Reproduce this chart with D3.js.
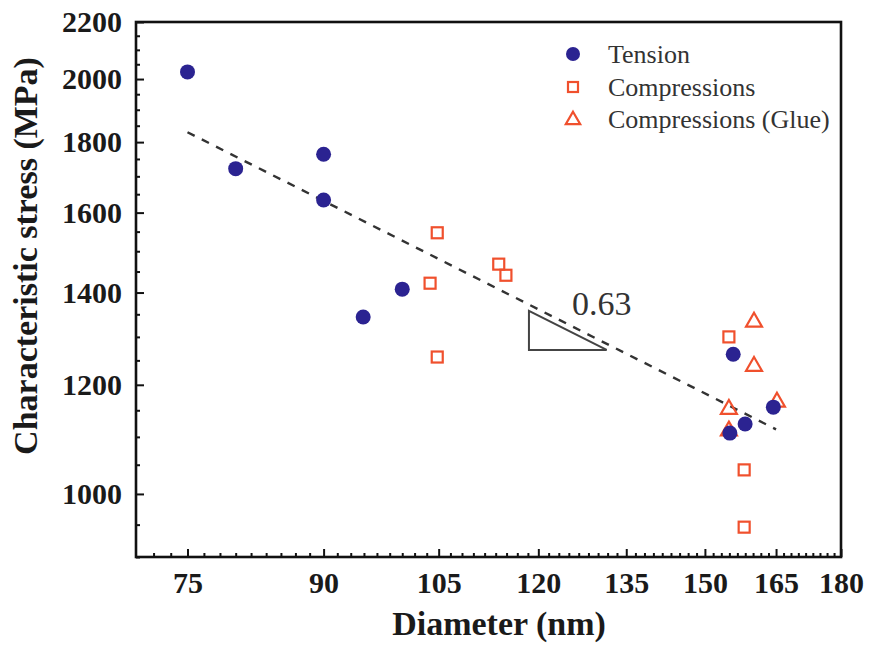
<!DOCTYPE html>
<html>
<head>
<meta charset="utf-8">
<script src="https://cdn.jsdelivr.net/npm/d3@7"></script>
<style>
  body { margin: 0; background: #fff; }
  svg { display: block; }
  .tick text { font-family: "Liberation Serif", "Times New Roman", serif; font-weight: bold; font-size: 30px; fill: #1a1a1a; }
</style>
</head>
<body>
<div id="chart"></div>
<script>
// diameter (nm) vs characteristic stress (MPa)
const tensionD = [75, 80, 90, 90, 94.9, 100, 155.8, 155.1, 158.3, 164.4];
const tensionS = [2024, 1722, 1764, 1634, 1344, 1408, 1263, 1107, 1124, 1156];

const compD = [104.8, 103.8, 113.8, 114.9, 104.8, 154.9, 158.1, 158.1];
const compS = [1547, 1422, 1468, 1441, 1257, 1300, 1041, 946];

const glueD = [160.2, 160.2, 154.9, 154.9, 165.2];
const glueS = [1335, 1240, 1154, 1113, 1168];

// power-law fit, slope 0.63 on log-log axes
const fitD = [75, 165];
const fitS = [1830, 1114];
const slopeLabel = "0.63";
const slopeD = [118.5, 131.5];
const slopeS = [1358, 1272];

const xTicks = [75, 90, 105, 120, 135, 150, 165, 180];
const yTicks = [1000, 1200, 1400, 1600, 1800, 2000, 2200];

const legendNames = ["Tension", "Compressions", "Compressions (Glue)"];

const W = 869, H = 646;
const pLeft = 136, pRight = 841, pTop = 22, pBottom = 557;
const blue = "#2b2391", orange = "#f0502d";

const svg = d3.select("#chart").append("svg")
    .attr("width", W).attr("height", H);

const x = d3.scaleLog().domain([70, 180]).range([pLeft, pRight]);
const y = d3.scaleLog().domain([900, 2200]).range([pBottom, pTop]);

// minor ticks: x every 15/9 nm, y every 50 MPa
const xMinor = d3.range(75 - 2 * 15 / 9, 180.01, 15 / 9)
    .filter(v => v >= 70 && !xTicks.some(t => Math.abs(t - v) < 0.01));
const yMinor = d3.range(900, 2201, 50).filter(v => v % 200 !== 0);

// x axis
const gx = svg.append("g").attr("transform", `translate(0,${pBottom})`);
gx.call(d3.axisBottom(x).tickValues(xTicks).tickFormat(d3.format("d"))
    .tickSize(-8).tickPadding(15));
gx.append("g").call(d3.axisBottom(x).tickValues(xMinor).tickFormat("").tickSize(-4));

// y axis
const gy = svg.append("g").attr("transform", `translate(${pLeft},0)`);
gy.call(d3.axisLeft(y).tickValues(yTicks).tickFormat(d3.format("d"))
    .tickSize(-8).tickPadding(14));
gy.append("g").call(d3.axisLeft(y).tickValues(yMinor).tickFormat("").tickSize(-4));

svg.selectAll(".domain").remove();
svg.selectAll(".tick line").attr("stroke", "#111").attr("stroke-width", 2);

// frame
svg.append("rect")
    .attr("x", pLeft).attr("y", pTop)
    .attr("width", pRight - pLeft).attr("height", pBottom - pTop)
    .attr("fill", "none").attr("stroke", "#111").attr("stroke-width", 2.6);

// axis titles
svg.append("text")
    .attr("x", 499).attr("y", 635)
    .attr("text-anchor", "middle")
    .style("font-family", "Liberation Serif, serif").style("font-weight", "bold")
    .style("font-size", "34px").attr("fill", "#1a1a1a")
    .text("Diameter (nm)");

svg.append("text")
    .attr("transform", "translate(37,256) rotate(-90)")
    .attr("text-anchor", "middle")
    .style("font-family", "Liberation Serif, serif").style("font-weight", "bold")
    .style("font-size", "34px").attr("fill", "#1a1a1a")
    .text("Characteristic stress (MPa)");

// fit line
svg.append("line")
    .attr("x1", x(fitD[0])).attr("y1", y(fitS[0]))
    .attr("x2", x(fitD[1])).attr("y2", y(fitS[1]))
    .attr("stroke", "#333").attr("stroke-width", 2.4)
    .attr("stroke-dasharray", "8,8");

// slope triangle
svg.append("path")
    .attr("d", `M${x(slopeD[0])},${y(slopeS[0])}L${x(slopeD[0])},${y(slopeS[1])}L${x(slopeD[1])},${y(slopeS[1])}Z`)
    .attr("fill", "none").attr("stroke", "#444").attr("stroke-width", 2);

svg.append("text")
    .attr("x", x(slopeD[0]) + 43).attr("y", y(slopeS[0]) + 4)
    .style("font-family", "Liberation Serif, serif").style("font-size", "34px")
    .attr("fill", "#333")
    .text(slopeLabel);

const tri = d3.symbol().type(d3.symbolTriangle).size(110);

// compression squares
svg.selectAll(".comp").data(compD).join("rect")
    .attr("class", "comp")
    .attr("x", d => x(d) - 5.5).attr("y", (d, i) => y(compS[i]) - 5.5)
    .attr("width", 11).attr("height", 11)
    .attr("fill", "none").attr("stroke", orange).attr("stroke-width", 2.2);

// compression (glue) triangles
svg.selectAll(".glue").data(glueD).join("path")
    .attr("class", "glue")
    .attr("transform", (d, i) => `translate(${x(d)},${y(glueS[i]) + 1})`)
    .attr("d", tri)
    .attr("fill", "none").attr("stroke", orange).attr("stroke-width", 2.2);

// tension circles
svg.selectAll(".tens").data(tensionD).join("circle")
    .attr("class", "tens")
    .attr("cx", d => x(d)).attr("cy", (d, i) => y(tensionS[i]))
    .attr("r", 7.5).attr("fill", blue);

// legend
const lg = svg.append("g").attr("transform", "translate(573,0)");
const rows = [54, 87, 119];
lg.append("circle").attr("cx", 0).attr("cy", rows[0]).attr("r", 7).attr("fill", blue);
lg.append("rect").attr("x", -5).attr("y", rows[1] - 5).attr("width", 10).attr("height", 10)
    .attr("fill", "none").attr("stroke", orange).attr("stroke-width", 2.2);
lg.append("path").attr("transform", `translate(0,${rows[2] + 1})`)
    .attr("d", d3.symbol().type(d3.symbolTriangle).size(90))
    .attr("fill", "none").attr("stroke", orange).attr("stroke-width", 2.2);
lg.selectAll(".lt").data(legendNames).join("text")
    .attr("class", "lt")
    .attr("x", 35).attr("y", (d, i) => rows[i])
    .attr("dy", "0.33em")
    .style("font-family", "Liberation Serif, serif").style("font-size", "26px")
    .attr("fill", "#333")
    .text(d => d);
</script>
</body>
</html>
